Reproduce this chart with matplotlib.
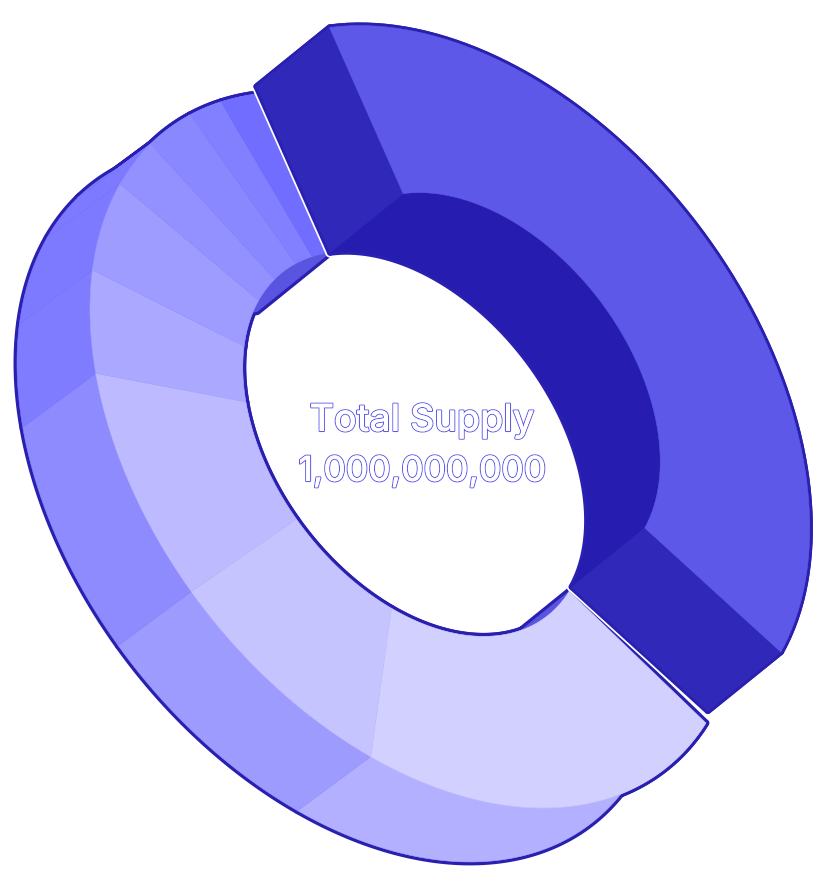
import numpy as np
import matplotlib
matplotlib.use("Agg")
import matplotlib.pyplot as plt
from matplotlib.patches import Polygon
import matplotlib.patheffects as pe

# allocation shares, big raised slice first, then clockwise
shares = [40, 20, 10, 10, 5, 5, 3, 3, 2, 2]
top_colors = ["#5d58e8", "#d2d0ff", "#c6c4ff", "#bdbaff", "#aba9ff",
              "#9f9cff", "#9390ff", "#8a88ff", "#8280ff", "#716eff"]
wall_colors = ["#2f28b8", "#b3b0ff", "#9e9bff", "#8e8bff", "#7f7cff",
               "#7d7aff", "#7d7aff", "#7d7aff", "#7d7aff", "#7d7aff"]
title_lines = ["Total Supply", "1,000,000,000"]
title_sizes = [27, 25]

RIM = "#2a20b0"
INNER_BIG = "#261db0"
INNER_LIGHT = "#5a55e0"

# projection of the flat ring on the page (pixels, y down)
center = np.array([415.0, 444.0])
lift = np.array([73.0, -59.0])
ax_a = np.array([325.0, 144.6])
ax_b = np.array([0.0, 333.0])
hole = 0.53
start_angle = -119.5
big_radius = 0.99

# the lower slices' outer edge is a little flatter than the big one
center_low = np.array([415.0, 450.0])
low_a = np.array([325.0, 141.0])
low_b = np.array([0.0, 329.0])
lift_low = np.array([73.0, -54.0])
low_gap = 2.0  # degrees lost next to the big slice

fig = plt.figure(figsize=(8.28, 8.96), dpi=100)
ax = fig.add_axes([0, 0, 1, 1])
ax.set_xlim(0, 828)
ax.set_ylim(896, 0)
ax.axis("off")


def arc(c, a, b, r, t1, t2):
    t = np.radians(np.linspace(t1, t2, 80))
    return c + r * (np.outer(np.cos(t), a) + np.outer(np.sin(t), b))


def band(p, q):
    return np.vstack([p, q[::-1]])


def draw_layers(layers, outline):
    # outline pass first so only the outer half of the stroke stays visible
    for lw, col in outline:
        for pts, c in layers:
            ax.add_patch(Polygon(pts, closed=True, facecolor=col, edgecolor=col,
                                 linewidth=lw, joinstyle="round"))
    for pts, c in layers:
        ax.add_patch(Polygon(pts, closed=True, facecolor=c, edgecolor=c, linewidth=0.4))


edges = start_angle + np.concatenate([[0], np.cumsum(shares)]) * 3.6

# lower slices sit one level below the big one
low_span = edges[-1] - edges[1]
low_edges = edges[1] + low_gap + (edges[1:] - edges[1]) * (low_span - low_gap) / low_span

walls = []
tops = []
for i in range(1, len(shares)):
    t1, t2 = low_edges[i - 1], low_edges[i]
    out_top = arc(center_low, low_a, low_b, 1, t1, t2)
    in_top = arc(center, ax_a, ax_b, hole, t1, t2)
    walls.append((band(out_top, out_top - lift_low), wall_colors[i]))
    walls.append((band(in_top, in_top - lift), INNER_LIGHT))
    tops.append((band(out_top, in_top), top_colors[i]))
draw_layers(walls + tops, [(5.0, RIM)])

# big slice, raised by the ring's thickness
c_big = center + lift
t1, t2 = edges[0], edges[1]
out_big = arc(c_big, ax_a, ax_b, big_radius, t1, t2)
in_big = arc(c_big, ax_a, ax_b, hole, t1, t2)
big = [
    (band(out_big, out_big - lift), wall_colors[0]),
    (band(in_big, in_big - lift), INNER_BIG),
    (np.array([out_big[0], in_big[0], in_big[0] - lift, out_big[0] - lift]), wall_colors[0]),
    (np.array([out_big[-1], in_big[-1], in_big[-1] - lift, out_big[-1] - lift]), wall_colors[0]),
    (band(out_big, in_big), top_colors[0]),
]
draw_layers(big, [(7.0, "white"), (4.5, RIM)])

for line, size, y in zip(title_lines, title_sizes, [431, 481]):
    ax.text(422, y, line, ha="center", va="baseline", fontsize=size, fontfamily="Inter",
            fontweight="medium", color="white",
            path_effects=[pe.withStroke(linewidth=1.5, foreground="#5d58e8"),
                          pe.Normal()])

fig.savefig("out.png", dpi=100, facecolor="white")
